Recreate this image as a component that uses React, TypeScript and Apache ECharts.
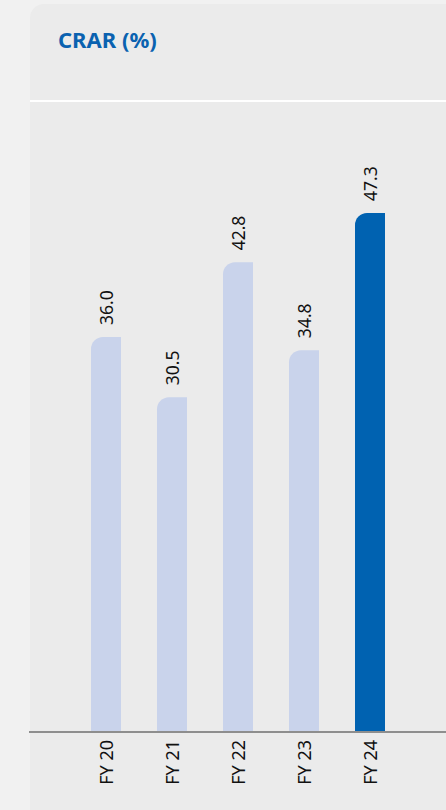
import React, { useEffect, useRef } from "react";
import * as echarts from "echarts";

const categories = ["FY 20", "FY 21", "FY 22", "FY 23", "FY 24"];
const values = [36.0, 30.5, 42.8, 34.8, 47.3];
const highlightIndex = 4;
const title = "CRAR (%)";

export default function App() {
  const ref = useRef<HTMLDivElement>(null);
  useEffect(() => {
    document.body.style.margin = "0";
    const chart = echarts.init(ref.current!, null, { renderer: "svg" });
    chart.setOption({
      animation: false,
      backgroundColor: "#f1f1f1",
      graphic: [
        {
          type: "rect",
          z: -10,
          shape: { x: 30, y: 4, width: 430, height: 820, r: [14, 0, 0, 0] },
          style: { fill: "#ebebeb" },
        },
        {
          type: "rect",
          z: -5,
          shape: { x: 30, y: 100, width: 416, height: 2 },
          style: { fill: "#ffffff" },
        },
        {
          type: "rect",
          z: 5,
          shape: { x: 29, y: 731, width: 417, height: 2 },
          style: { fill: "#8e8e8e" },
        },
        {
          type: "text",
          left: 58,
          top: 28,
          style: {
            text: title,
            fill: "#0a62b0",
            font: "bold 22px 'Noto Sans', 'Open Sans', sans-serif",
          },
        },
      ],
      grid: { left: 73, right: 43, top: 73.6, bottom: 78, containLabel: false },
      xAxis: {
        type: "category",
        data: categories,
        axisLine: { show: false },
        axisTick: { show: false },
        axisLabel: {
          rotate: 90,
          margin: 8,
          color: "#111111",
          fontSize: 18,
          fontFamily: "'Noto Sans', 'Open Sans', sans-serif",
        },
      },
      yAxis: {
        type: "value",
        min: 0,
        max: 60,
        show: false,
        splitLine: { show: false },
      },
      series: [
        {
          type: "bar",
          barWidth: 30,
          data: values.map((v, i) => ({
            value: v,
            itemStyle: {
              color: i === highlightIndex ? "#0062b1" : "#c9d3eb",
              borderRadius: [12, 0, 0, 0],
            },
          })),
          label: {
            show: true,
            position: "top",
            rotate: 90,
            align: "left",
            verticalAlign: "middle",
            distance: 12,
            color: "#111111",
            fontSize: 17.5,
            fontFamily: "'Noto Sans', 'Open Sans', sans-serif",
            formatter: (p: any) => Number(p.value).toFixed(1),
          },
        },
      ],
    });
    return () => chart.dispose();
  }, []);
  return <div ref={ref} style={{ width: 446, height: 810 }} />;
}
